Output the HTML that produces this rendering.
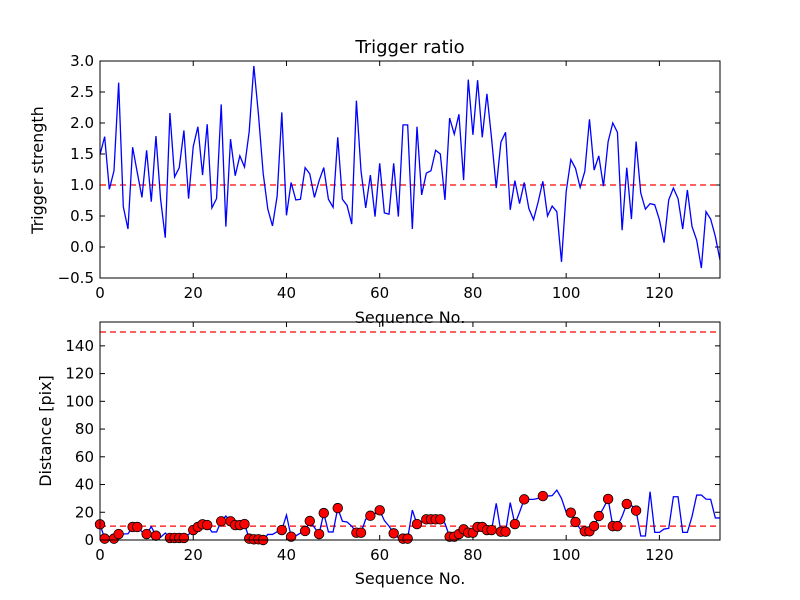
<!DOCTYPE html>
<html><head><meta charset="utf-8"><style>
html,body{margin:0;padding:0;background:#fff;}
svg{display:block;font-family:"DejaVu Sans","Liberation Sans",sans-serif;}
</style></head><body>
<svg id="chart" width="800" height="600" viewBox="0 0 800 600" xmlns="http://www.w3.org/2000/svg">
<rect width="800" height="600" fill="#fff"/>
<text x="410" y="53" font-size="18" text-anchor="middle">Trigger ratio</text>
<text x="43" y="170" font-size="16" text-anchor="middle" transform="rotate(-90 43 170)">Trigger strength</text>
<text x="410" y="323" font-size="16" text-anchor="middle">Sequence No.</text>
<text x="51" y="431" font-size="16" text-anchor="middle" transform="rotate(-90 51 431)">Distance [pix]</text>
<text x="410" y="584" font-size="16" text-anchor="middle">Sequence No.</text>
<g id="top"></g><g id="bot"></g>
</svg>
<script>
const seqIndex = Array.from({length:134},(_, i)=>i);
const triggerValues = [1.49,1.78,0.93,1.23,2.65,0.65,0.29,1.61,1.2,0.8,1.56,0.73,1.79,0.77,0.15,2.16,1.13,1.28,1.88,0.78,1.62,1.94,1.16,1.98,0.63,0.78,2.3,0.33,1.74,1.15,1.47,1.29,1.86,2.92,2.13,1.19,0.61,0.34,0.82,2.17,0.51,1.04,0.76,0.77,1.28,1.18,0.8,1.07,1.28,0.77,0.64,1.77,0.77,0.67,0.37,2.36,1.22,0.63,1.16,0.49,1.35,0.55,0.53,1.35,0.49,1.97,1.97,0.29,1.94,0.84,1.19,1.23,1.56,1.5,0.76,2.08,1.82,2.14,1.08,2.7,1.81,2.69,1.77,2.47,1.75,0.95,1.69,1.85,0.6,1.07,0.7,1.04,0.62,0.44,0.73,1.06,0.5,0.66,0.57,-0.24,0.89,1.41,1.27,0.96,1.22,2.06,1.24,1.47,0.98,1.7,2.0,1.85,0.27,1.28,0.45,1.7,0.87,0.61,0.7,0.68,0.44,0.07,0.76,0.95,0.78,0.29,0.92,0.33,0.11,-0.34,0.57,0.45,0.17,-0.21];
const distanceValues = [11.3,1,0,1,4.3,4.3,4.5,9.4,9.4,6,4.3,9.6,3.1,2,5,1.5,1.5,1.5,1.5,4,7.2,9.4,11.3,10.8,5.8,5.8,13.5,17.3,13.5,10.8,10.8,11.5,1,0.5,0.5,0,4,4,6,7.2,18,2.4,3,5,6.5,13.7,9,4.3,19.4,5.8,5.8,23,13.5,13,10,5.3,5.3,15,17.5,19,21.4,14,10,4.8,1.5,1,1,21.6,11.5,13,14.9,14.9,14.9,14.9,12,2.4,2.4,4.3,7.7,5.3,5.3,9.4,9.4,7.2,7.2,26.4,6,6,27,11.5,20,29.3,29.3,29.3,30,31.7,31.7,32,36,30,20,19.7,13,8,6.3,6.3,10,17.3,23,29.6,10,10,17,26,25,21.2,2.9,2.9,34.8,5.5,5.5,7.9,8.4,31.2,31.2,5.5,5.5,17,32.4,32.4,29.5,29.3,15.9,15.9];
const markerIndices = [0,1,3,4,7,8,10,12,15,16,17,18,20,21,22,23,26,28,29,30,31,32,33,34,35,39,41,44,45,47,48,51,55,56,58,60,63,65,66,68,70,71,72,73,75,76,77,78,79,80,81,82,83,84,86,87,89,91,95,101,102,104,105,106,107,109,110,111,113,115];
const xTicks = [0,20,40,60,80,100,120];
const topYTicks = [-0.5,0,0.5,1,1.5,2,2.5,3];
const topYLabels = ["−0.5","0.0","0.5","1.0","1.5","2.0","2.5","3.0"];
const botYTicks = [0,20,40,60,80,100,120,140];
const topThreshold = [1];
const botThresholds = [10,150];

const NS="http://www.w3.org/2000/svg";
function mk(parent,tag,attrs){const e=document.createElementNS(NS,tag);for(const k in attrs)e.setAttribute(k,attrs[k]);parent.appendChild(e);return e;}
const L=100,R=720;
const xs=v=>L+(v-0)*(R-L)/133;
function panel(g,top,bottom,ymin,ymax,yticks,ylabels,prefix){
  const ys=v=>bottom-(v-ymin)*(bottom-top)/(ymax-ymin);
  xTicks.forEach(t=>{
    const x=xs(t);
    const a=mk(g,'line',{x1:x,x2:x,y1:bottom,y2:bottom-5,stroke:'#000'});
    
    mk(g,'line',{x1:x,x2:x,y1:top,y2:top+5,stroke:'#000'});
    const tx=mk(g,'text',{x:x,y:bottom+20,'font-size':15,'text-anchor':'middle'});
    
    tx.textContent=t;
  });
  yticks.forEach((t,i)=>{
    const y=ys(t);
    const a=mk(g,'line',{x1:L,x2:L+5,y1:y,y2:y,stroke:'#000'});
    
    mk(g,'line',{x1:R,x2:R-5,y1:y,y2:y,stroke:'#000'});
    const tx=mk(g,'text',{x:L-6,y:y+5,'font-size':15,'text-anchor':'end'});
    
    tx.textContent=ylabels?ylabels[i]:t;
  });
  return ys;
}
const gt=document.getElementById('top'), gb=document.getElementById('bot');
const ysT=panel(gt,61,278,-0.5,3.0,topYTicks,topYLabels,'top');
topThreshold.forEach(v=>{const l=mk(gt,'line',{x1:L,x2:R,y1:ysT(v),y2:ysT(v),stroke:'#f00','stroke-width':1.2,'stroke-dasharray':'6,4'});
});
const pt=mk(gt,'polyline',{points:triggerValues.map((v,i)=>xs(seqIndex[i])+','+ysT(v)).join(' '),fill:'none',stroke:'#00f','stroke-width':1.3});

const ft=mk(gt,'rect',{x:L,y:61,width:R-L,height:217,fill:'none',stroke:'#000','stroke-width':1});


const ysB=panel(gb,322,540,0,157.2,botYTicks,null,'bottom');
botThresholds.forEach(v=>{const l=mk(gb,'line',{x1:L,x2:R,y1:ysB(v),y2:ysB(v),stroke:'#f00','stroke-width':1.2,'stroke-dasharray':'6,4'});
});
const pb=mk(gb,'polyline',{points:distanceValues.map((v,i)=>xs(seqIndex[i])+','+ysB(v)).join(' '),fill:'none',stroke:'#00f','stroke-width':1.3});

markerIndices.forEach(i=>{
  const c=mk(gb,'circle',{cx:xs(seqIndex[i]),cy:ysB(distanceValues[i]),r:4.8,fill:'#f00',stroke:'#000','stroke-width':0.8});
  
  
});
const fb=mk(gb,'rect',{x:L,y:322,width:R-L,height:218,fill:'none',stroke:'#000','stroke-width':1});

</script>
</body></html>
